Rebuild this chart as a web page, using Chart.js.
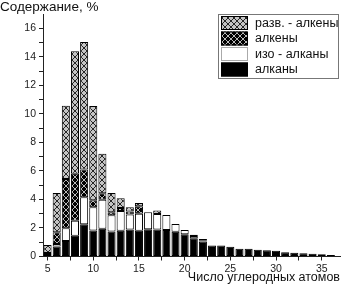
<!DOCTYPE html>
<html lang="ru">
<head>
<meta charset="utf-8">
<style>
  html, body { margin: 0; padding: 0; background: #fff; }
  #wrap { width: 341px; height: 287px; }
</style>
<script src="https://cdn.jsdelivr.net/npm/chart.js@4.4.1/dist/chart.umd.min.js"></script>
</head>
<body>
<div id="wrap"><canvas id="carbonChart" width="341" height="287"></canvas></div>
<script>
// Carbon number (x axis)
const carbonNumbers = [5, 6, 7, 8, 9, 10, 11, 12, 13, 14, 15, 16, 17, 18, 19, 20,
                       21, 22, 23, 24, 25, 26, 27, 28, 29, 30, 31, 32, 33, 34, 35, 36];

// Content, %, stacked bottom -> top
const alkanes = [0.1, 0.7, 1.08, 1.45, 2.27, 1.82, 1.95, 1.75, 1.8, 1.9, 1.8, 1.92, 1.9, 1.86, 1.74, 1.56,
                 1.28, 1.05, 0.78, 0.78, 0.68, 0.55, 0.54, 0.48, 0.43, 0.4, 0.3, 0.27, 0.22, 0.2, 0.15, 0.1];
const isoAlkanes = [0, 0.18, 0.9, 1.05, 1.88, 1.63, 2.03, 1.15, 1.4, 1.05, 1.2, 1.18, 1.08, 1.05, 0.54, 0.3,
                    0.15, 0.05, 0, 0, 0, 0, 0, 0, 0, 0, 0, 0, 0, 0, 0, 0];
const alkenes = [0.15, 0.82, 3.45, 3.3, 1.95, 0.5, 0.45, 0.2, 0.2, 0.2, 0.52, 0, 0, 0, 0, 0,
                 0, 0, 0, 0, 0, 0, 0, 0, 0, 0, 0, 0, 0, 0, 0, 0];
const branchedAlkenes = [0.55, 2.75, 5.15, 8.6, 8.95, 6.6, 2.77, 1.35, 0.68, 0.3, 0.23, 0, 0.24, 0, 0, 0,
                         0.1, 0.12, 0, 0, 0, 0, 0, 0, 0, 0, 0, 0, 0, 0, 0, 0];

// Axis ticks
const xTicks = [5, 7.5, 10, 12.5, 15, 17.5, 20, 22.5, 25, 27.5, 30, 32.5, 35];
const yTicks = [0, 1, 2, 3, 4, 5, 6, 7, 8, 9, 10, 11, 12, 13, 14, 15, 16];

const FONT = '"Liberation Sans", Arial, sans-serif';

// cross-hatch fills
function hatch(bg, line) {
    const c = document.createElement('canvas');
    c.width = 6; c.height = 6;
    const g = c.getContext('2d');
    g.fillStyle = bg;
    g.fillRect(0, 0, 6, 6);
    g.strokeStyle = line;
    g.lineWidth = 1;
    g.beginPath();
    g.moveTo(0, 0); g.lineTo(6, 6);
    g.moveTo(6, 0); g.lineTo(0, 6);
    g.stroke();
    return g.createPattern(c, 'repeat');
}

const greyHatch = hatch('#c4c4c4', '#262626');
const darkHatch = hatch('#000000', '#b8b8b8');

function points(values) {
    return carbonNumbers.map((n, i) => ({ x: n, y: values[i] > 0 ? values[i] : null }));
}

function series(label, values, fill) {
    return {
        label: label,
        data: points(values),
        backgroundColor: fill,
        borderColor: '#000',
        borderWidth: 1,
        borderSkipped: false,
        categoryPercentage: 1,
        barPercentage: 0.88
    };
}

// legend box drawn inside the plot, top right
const boxLegend = {
    id: 'boxLegend',
    afterDraw(chart) {
        const ctx = chart.ctx;
        ctx.save();
        ctx.fillStyle = '#fff';
        ctx.fillRect(218.5, 14.5, 120, 64);
        ctx.strokeStyle = '#777';
        ctx.lineWidth = 1;
        ctx.strokeRect(218.5, 14.5, 120, 64);
        const items = chart.data.datasets.slice().reverse();
        items.forEach((ds, i) => {
            const y = 16 + i * 15.5;
            ctx.fillStyle = ds.backgroundColor;
            ctx.fillRect(221, y, 27, 14);
            ctx.strokeStyle = i === 2 ? '#aaa' : '#000';
            ctx.strokeRect(221.5, y + 0.5, 26, 13);
            ctx.fillStyle = '#111';
            ctx.font = '12.5px ' + FONT;
            ctx.textBaseline = 'middle';
            ctx.fillText(ds.label, 255, y + 7.5);
        });
        ctx.restore();
    }
};

const ctx = document.getElementById('carbonChart');
new Chart(ctx, {
    type: 'bar',
    data: {
        datasets: [
            series('алканы', alkanes, '#000000'),
            series('изо - алканы', isoAlkanes, '#ffffff'),
            series('алкены', alkenes, darkHatch),
            series('разв. - алкены', branchedAlkenes, greyHatch)
        ]
    },
    options: {
        responsive: false,
        animation: false,
        layout: { padding: { left: 0, right: 1, top: 0, bottom: 2 } },
        plugins: {
            legend: { display: false },
            tooltip: { enabled: false },
            title: {
                display: true,
                text: 'Содержание, %',
                align: 'start',
                color: '#111',
                font: { family: FONT, size: 13.5, weight: 'normal', lineHeight: 1.05 },
                padding: { top: 0, bottom: 0 }
            }
        },
        scales: {
            x: {
                type: 'linear',
                stacked: true,
                offset: false,
                min: 4.5,
                max: 37,
                afterBuildTicks: (scale) => { scale.ticks = xTicks.map(v => ({ value: v })); },
                afterFit: (scale) => { scale.height = 28.5; },
                ticks: {
                    autoSkip: false,
                    maxRotation: 0,
                    padding: 2,
                    color: '#222',
                    font: { family: FONT, size: 10.5 },
                    callback: (v) => (v % 5 === 0 ? v : '')
                },
                grid: { offset: false, drawOnChartArea: false, drawTicks: true, tickLength: 4, tickColor: '#222' },
                border: { display: true, color: '#222', width: 1 },
                title: {
                    display: true,
                    text: 'Число углеродных атомов',
                    align: 'end',
                    color: '#111',
                    font: { family: FONT, size: 12.5 },
                    padding: { top: 0, bottom: 0 }
                }
            },
            y: {
                stacked: true,
                min: 0,
                max: 17,
                afterBuildTicks: (scale) => { scale.ticks = yTicks.map(v => ({ value: v })); },
                afterFit: (scale) => { scale.width = 43; },
                ticks: {
                    autoSkip: false,
                    padding: 3,
                    color: '#222',
                    font: { family: FONT, size: 10.5 },
                    callback: (v) => (v % 2 === 0 ? v : '')
                },
                grid: { drawOnChartArea: false, drawTicks: true, tickLength: 4, tickColor: '#222' },
                border: { display: true, color: '#222', width: 1 }
            }
        }
    },
    plugins: [boxLegend]
});
</script>
</body>
</html>
